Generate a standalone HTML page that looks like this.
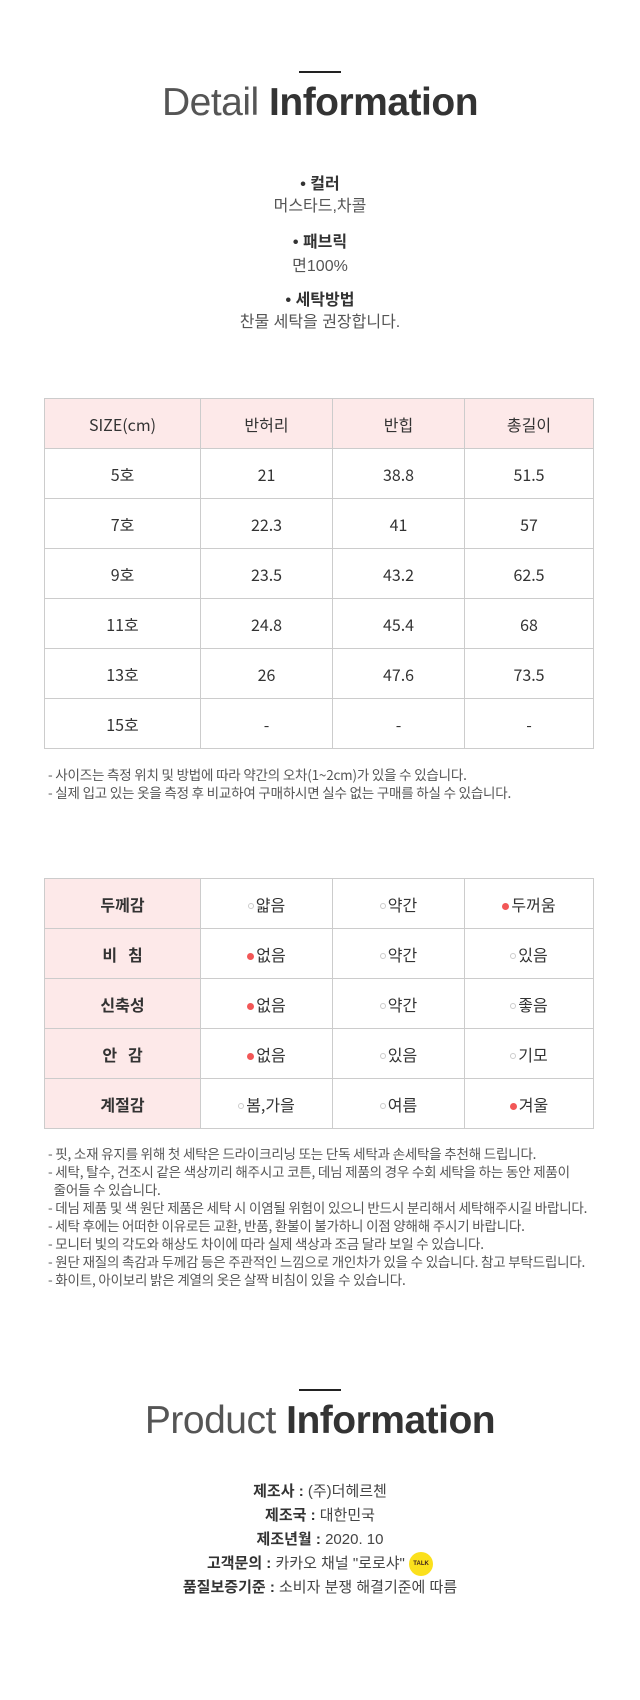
<!DOCTYPE html>
<html><head><meta charset="utf-8">
<style>
*{margin:0;padding:0;box-sizing:border-box}
body{width:640px;height:1700px;background:#fff;position:relative;font-family:"Liberation Sans","Noto Sans CJK KR",sans-serif;color:#333;overflow:hidden}
.line{position:absolute;left:299px;width:42px;height:2px;background:#222}
.title{position:absolute;left:0;width:640px;text-align:center;font-size:39px;color:#333;letter-spacing:-0.5px}
.title .l{font-weight:normal;color:#555}
.title .b{font-weight:bold}
.ctr{position:absolute;left:0;width:640px;text-align:center;font-size:16px;line-height:20px}
.bold{font-weight:bold;color:#333}
.light{color:#555}
table{position:absolute;left:44px;border-collapse:collapse;font-size:16px;color:#333;font-family:"Noto Sans CJK KR",sans-serif}
td{border:1px solid #ccc;text-align:center;height:50px;padding:0;line-height:20px;vertical-align:middle}
td.h{background:#fde9e9}
.c0{width:156px}.c1{width:132px}.c2{width:132px}.c3{width:129px}
.notes{position:absolute;left:48px;font-size:13.5px;line-height:18px;color:#555;letter-spacing:-0.2px;font-family:"Noto Sans CJK KR",sans-serif}
.o{display:inline-block;width:6px;height:6px;border:1px solid #ccc;border-radius:50%;margin-right:2px;vertical-align:middle}
.f{display:inline-block;width:7px;height:7px;background:#f25757;border-radius:50%;margin-right:2px;vertical-align:middle}
.prod{position:absolute;left:0;width:640px;text-align:center;font-size:15px;line-height:24px;color:#444}
.prod b{color:#333}
</style></head><body>
<div class="line" style="top:71px"></div>
<div class="title" style="top:81px"><span class="l">Detail </span><span class="b">Information</span></div>

<div class="ctr bold" style="top:175px">• 컬러</div>
<div class="ctr light" style="top:197px">머스타드,차콜</div>
<div class="ctr bold" style="top:233px">• 패브릭</div>
<div class="ctr light" style="top:257px">면100%</div>
<div class="ctr bold" style="top:291px">• 세탁방법</div>
<div class="ctr light" style="top:313px">찬물 세탁을 권장합니다.</div>

<table style="top:398px">
<tr><td class="h c0">SIZE(cm)</td><td class="h c1">반허리</td><td class="h c2">반힙</td><td class="h c3">총길이</td></tr>
<tr><td>5호</td><td>21</td><td>38.8</td><td>51.5</td></tr>
<tr><td>7호</td><td>22.3</td><td>41</td><td>57</td></tr>
<tr><td>9호</td><td>23.5</td><td>43.2</td><td>62.5</td></tr>
<tr><td>11호</td><td>24.8</td><td>45.4</td><td>68</td></tr>
<tr><td>13호</td><td>26</td><td>47.6</td><td>73.5</td></tr>
<tr><td>15호</td><td>-</td><td>-</td><td>-</td></tr>
</table>
<div class="notes" style="top:765px">- 사이즈는 측정 위치 및 방법에 따라 약간의 오차(1~2cm)가 있을 수 있습니다.<br>- 실제 입고 있는 옷을 측정 후 비교하여 구매하시면 실수 없는 구매를 하실 수 있습니다.</div>

<table style="top:878px">
<tr><td class="h c0 bold">두께감</td><td class="c1"><span class="o"></span>얇음</td><td class="c2"><span class="o"></span>약간</td><td class="c3"><span class="f"></span>두꺼움</td></tr>
<tr><td class="h bold">비&nbsp;&nbsp;&nbsp;침</td><td><span class="f"></span>없음</td><td><span class="o"></span>약간</td><td><span class="o"></span>있음</td></tr>
<tr><td class="h bold">신축성</td><td><span class="f"></span>없음</td><td><span class="o"></span>약간</td><td><span class="o"></span>좋음</td></tr>
<tr><td class="h bold">안&nbsp;&nbsp;&nbsp;감</td><td><span class="f"></span>없음</td><td><span class="o"></span>있음</td><td><span class="o"></span>기모</td></tr>
<tr><td class="h bold">계절감</td><td><span class="o"></span>봄,가을</td><td><span class="o"></span>여름</td><td><span class="f"></span>겨울</td></tr>
</table>
<div class="notes" style="top:1144px">- 핏, 소재 유지를 위해 첫 세탁은 드라이크리닝 또는 단독 세탁과 손세탁을 추천해 드립니다.<br>- 세탁, 탈수, 건조시 같은 색상끼리 해주시고 코튼, 데님 제품의 경우 수회 세탁을 하는 동안 제품이<br>&nbsp;&nbsp;줄어들 수 있습니다.<br>- 데님 제품 및 색 원단 제품은 세탁 시 이염될 위험이 있으니 반드시 분리해서 세탁해주시길 바랍니다.<br>- 세탁 후에는 어떠한 이유로든 교환, 반품, 환불이 불가하니 이점 양해해 주시기 바랍니다.<br>- 모니터 빛의 각도와 해상도 차이에 따라 실제 색상과 조금 달라 보일 수 있습니다.<br>- 원단 재질의 촉감과 두께감 등은 주관적인 느낌으로 개인차가 있을 수 있습니다. 참고 부탁드립니다.<br>- 화이트, 아이보리 밝은 계열의 옷은 살짝 비침이 있을 수 있습니다.</div>

<div class="line" style="top:1389px"></div>
<div class="title" style="top:1399px"><span class="l">Product </span><span class="b">Information</span></div>
<div class="prod" style="top:1480px">
<div><b>제조사 :</b> (주)더헤르첸</div>
<div><b>제조국 :</b> 대한민국</div>
<div><b>제조년월 :</b> 2020. 10</div>
<div><b>고객문의 :</b> 카카오 채널 "로로샤" <span style="display:inline-block;width:24px;height:24px;border-radius:50%;background:#fbe01c;vertical-align:middle;font-size:6px;font-weight:bold;line-height:24px;color:#3a1d1d">TALK</span></div>
<div><b>품질보증기준 :</b> 소비자 분쟁 해결기준에 따름</div>
</div>
</body></html>
